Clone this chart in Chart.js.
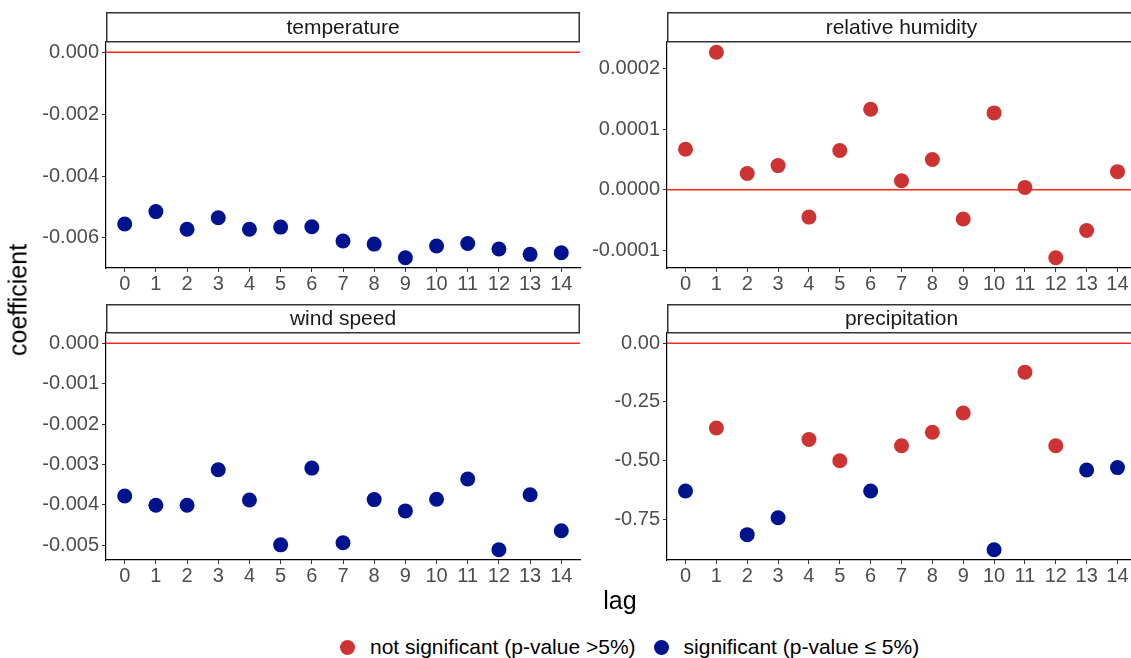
<!DOCTYPE html>
<html>
<head>
<meta charset="utf-8">
<script src="https://cdn.jsdelivr.net/npm/chart.js@4"></script>
<style>
  body { margin: 0; background: #fff; font-family: "Liberation Sans", Arial, sans-serif; }
  #wrap { position: relative; width: 1131px; height: 658px; overflow: hidden; }
  .panel { position: absolute; }
  .ylab { position: absolute; left: 18px; top: 300px; font-size: 25px; color: #000;
          transform: translate(-50%, -50%) rotate(-90deg); white-space: nowrap; }
  .xlab { position: absolute; left: 620px; top: 600px; font-size: 25px; color: #000;
          transform: translate(-50%, -50%); }
  .legend { position: absolute; left: 340px; top: 634px; height: 26px; display: flex;
            align-items: center; font-size: 21px; color: #000; white-space: nowrap; }
  .legend .dot { width: 15px; height: 15px; border-radius: 50%; display: inline-block; margin-right: 15px; }
</style>
</head>
<body>
<div id="wrap">
  <div class="panel" style="left:0;top:0;width:582px;height:295px"><canvas id="c1"></canvas></div>
  <div class="panel" style="left:581px;top:0;width:555px;height:295px"><canvas id="c2"></canvas></div>
  <div class="panel" style="left:0;top:290px;width:582px;height:300px"><canvas id="c3"></canvas></div>
  <div class="panel" style="left:581px;top:290px;width:555px;height:300px"><canvas id="c4"></canvas></div>
  <div class="ylab">coefficient</div>
  <div class="xlab">lag</div>
  <div class="legend">
    <span class="dot" style="background:#cd3333"></span><span>not significant (p-value &gt;5%)</span>
    <span class="dot" style="background:#00138f;margin-left:18px"></span><span>significant (p-value ≤ 5%)</span>
  </div>
</div>
<script>
const lags = [0, 1, 2, 3, 4, 5, 6, 7, 8, 9, 10, 11, 12, 13, 14];

const tempCoef = [-0.00555, -0.00515, -0.00572, -0.00535, -0.00572, -0.00565, -0.00564, -0.00610,
                  -0.00620, -0.00664, -0.00626, -0.00618, -0.00636, -0.00653, -0.00648];
const tempSig = [1, 1, 1, 1, 1, 1, 1, 1, 1, 1, 1, 1, 1, 1, 1];
const tempTicks = ['0.000', '-0.002', '-0.004', '-0.006'];

const rhCoef = [0.000067, 0.000227, 0.000027, 0.000040, -0.000045, 0.000065, 0.000133, 0.000015,
                0.000050, -0.000048, 0.000127, 0.000004, -0.000112, -0.000067, 0.000030];
const rhSig = [0, 0, 0, 0, 0, 0, 0, 0, 0, 0, 0, 0, 0, 0, 0];
const rhTicks = ['0.0002', '0.0001', '0.0000', '-0.0001'];

const windCoef = [-0.00378, -0.00401, -0.00401, -0.00313, -0.00388, -0.00499, -0.00309, -0.00494,
                  -0.00387, -0.00415, -0.00386, -0.00336, -0.00511, -0.00375, -0.00464];
const windSig = [1, 1, 1, 1, 1, 1, 1, 1, 1, 1, 1, 1, 1, 1, 1];
const windTicks = ['0.000', '-0.001', '-0.002', '-0.003', '-0.004', '-0.005'];

const precipCoef = [-0.630, -0.361, -0.816, -0.744, -0.410, -0.501, -0.630, -0.437,
                    -0.379, -0.297, -0.880, -0.123, -0.437, -0.540, -0.530];
const precipSig = [1, 0, 1, 1, 0, 0, 1, 0, 0, 0, 1, 0, 0, 1, 1];
const precipTicks = ['0.00', '-0.25', '-0.50', '-0.75'];

const refLine = 0;
const RED = '#cd3333';
const BLUE = '#00138f';

Chart.defaults.font.family = '"Liberation Sans", Arial, sans-serif';

// strip box on top + red reference line
const facetPlugin = {
    id: 'facet',
    beforeDatasetsDraw(chart, args, opts) {
        const ctx = chart.ctx, a = chart.chartArea;
        const y = chart.scales.y.getPixelForValue(refLine);
        ctx.save();
        ctx.strokeStyle = '#ff2a1a';
        ctx.lineWidth = 1.5;
        ctx.beginPath();
        ctx.moveTo(a.left, y);
        ctx.lineTo(a.right, y);
        ctx.stroke();
        ctx.restore();
    },
    afterDraw(chart, args, opts) {
        const ctx = chart.ctx, a = chart.chartArea;
        const h = opts.stripH;
        ctx.save();
        ctx.fillStyle = '#fff';
        ctx.fillRect(a.left, a.top - h, a.right - a.left, h);
        ctx.strokeStyle = '#333';
        ctx.lineWidth = 1.5;
        ctx.strokeRect(a.left + 0.75, a.top - h + 0.75, a.right - a.left - 1.5, h - 1);
        ctx.fillStyle = '#1a1a1a';
        ctx.font = '21px "Liberation Sans", Arial, sans-serif';
        ctx.textAlign = 'center';
        ctx.textBaseline = 'middle';
        ctx.fillText(opts.title, (a.left + a.right) / 2, a.top - h / 2 + 1);
        ctx.restore();
    }
};

function makePanel(id, title, coef, sig, ticks, yWidth, padTop, xHeight, stripH, padRight) {
    const lo = Math.min(refLine, ...coef), hi = Math.max(refLine, ...coef);
    const pad = (hi - lo) * 0.05;
    const tickVals = ticks.map(Number);
    const ns = [], s = [];
    lags.forEach((l, i) => (sig[i] ? s : ns).push({ x: l, y: coef[i] }));
    new Chart(document.getElementById(id), {
        type: 'scatter',
        data: {
            datasets: [
                { label: 'not significant (p-value >5%)', data: ns, backgroundColor: RED },
                { label: 'significant (p-value ≤ 5%)', data: s, backgroundColor: BLUE }
            ]
        },
        options: {
            responsive: true,
            maintainAspectRatio: false,
            animation: false,
            layout: { autoPadding: false, padding: { top: padTop, right: padRight, left: 0, bottom: 0 } },
            elements: { point: { radius: 7.5, borderWidth: 0, hoverRadius: 7.5 } },
            plugins: {
                legend: { display: false },
                tooltip: { enabled: false },
                facet: { title: title, stripH: stripH }
            },
            scales: {
                x: {
                    type: 'linear',
                    min: -0.6,
                    max: 14.6,
                    afterBuildTicks: (axis) => { axis.ticks = lags.map(v => ({ value: v })); },
                    afterFit: (scale) => {
                        scale.height = xHeight;
                        scale.paddingLeft = 0;
                        scale.paddingRight = 0;
                    },
                    ticks: { color: '#4d4d4d', font: { size: 20 }, padding: 0, maxRotation: 0, autoSkip: false },
                    grid: { drawOnChartArea: false, drawTicks: true, tickLength: 4, color: '#333' },
                    border: { display: true, color: '#000', width: 1.2 }
                },
                y: {
                    type: 'linear',
                    min: lo - pad,
                    max: hi + pad,
                    afterBuildTicks: (axis) => { axis.ticks = tickVals.map(v => ({ value: v })); },
                    afterFit: (scale) => {
                        scale.width = yWidth;
                        scale.paddingTop = 0;
                        scale.paddingBottom = 0;
                    },
                    ticks: {
                        color: '#4d4d4d', font: { size: 20 }, padding: 3,
                        callback: (v) => ticks[tickVals.indexOf(v)]
                    },
                    grid: { drawOnChartArea: false, drawTicks: true, tickLength: 4, color: '#333' },
                    border: { display: true, color: '#000', width: 1.2 }
                }
            }
        },
        plugins: [facetPlugin]
    });
}

makePanel('c1', 'temperature', tempCoef, tempSig, tempTicks, 106, 42, 27, 30, 2);
makePanel('c2', 'relative humidity', rhCoef, rhSig, rhTicks, 86, 42, 27, 30, 0);
makePanel('c3', 'wind speed', windCoef, windSig, windTicks, 106, 43, 30, 29, 2);
makePanel('c4', 'precipitation', precipCoef, precipSig, precipTicks, 86, 43, 30, 29, 0);
</script>
</body>
</html>
